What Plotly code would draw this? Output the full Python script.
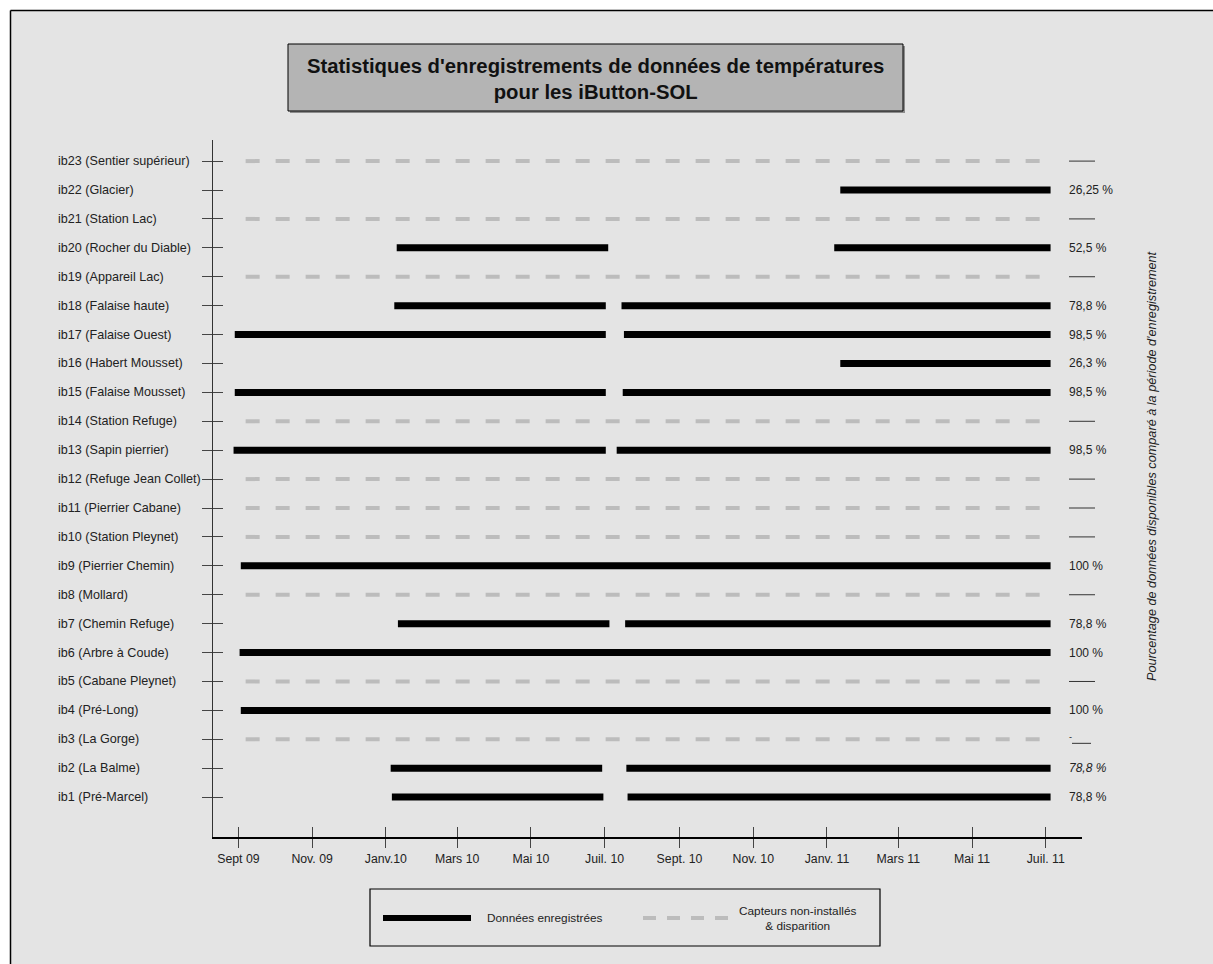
import plotly.graph_objects as go

# capteurs, du bas (ib1) vers le haut (ib23)
capteurs = ["ib1 (Pré-Marcel)", "ib2 (La Balme)", "ib3 (La Gorge)", "ib4 (Pré-Long)",
            "ib5 (Cabane Pleynet)", "ib6 (Arbre à Coude)", "ib7 (Chemin Refuge)", "ib8 (Mollard)",
            "ib9 (Pierrier Chemin)", "ib10 (Station Pleynet)", "ib11 (Pierrier Cabane)",
            "ib12 (Refuge Jean Collet)", "ib13 (Sapin pierrier)", "ib14 (Station Refuge)",
            "ib15 (Falaise Mousset)", "ib16 (Habert Mousset)", "ib17 (Falaise Ouest)",
            "ib18 (Falaise haute)", "ib19 (Appareil Lac)", "ib20 (Rocher du Diable)",
            "ib21 (Station Lac)", "ib22 (Glacier)", "ib23 (Sentier supérieur)"]
pourcentages = ["78,8 %", "78,8 %", "", "100 %", "", "100 %", "78,8 %", "", "100 %", "", "", "",
                "98,5 %", "", "98,5 %", "26,3 %", "98,5 %", "78,8 %", "", "52,5 %", "", "26,25 %", ""]

# périodes d'enregistrement (numéro du capteur, début, fin)
seg_capteur = [1, 1, 2, 2, 4, 6, 7, 7, 9, 13, 13, 15, 15, 16, 17, 17, 18, 18, 20, 20, 22]
seg_debut = ["2010-01-06", "2010-07-20", "2010-01-05", "2010-07-19", "2009-09-03", "2009-09-02",
             "2010-01-11", "2010-07-18", "2009-09-03", "2009-08-28", "2010-07-11", "2009-08-29",
             "2010-07-16", "2011-01-12", "2009-08-29", "2010-07-17", "2010-01-08", "2010-07-15",
             "2010-01-10", "2011-01-07", "2011-01-12"]
seg_fin = ["2010-06-30", "2011-07-05", "2010-06-29", "2011-07-05", "2011-07-05", "2011-07-05",
           "2010-07-05", "2011-07-05", "2011-07-05", "2010-07-02", "2011-07-05", "2010-07-02",
           "2011-07-05", "2011-07-05", "2010-07-02", "2011-07-05", "2010-07-02", "2011-07-05",
           "2010-07-04", "2011-07-05", "2011-07-05"]

# capteurs non installés / disparus
absents = [3, 5, 8, 10, 11, 12, 14, 19, 21, 23]
absent_debut = "2009-09-07"
absent_fin = "2011-06-28"

mois_vals = ["2009-09-01", "2009-11-01", "2010-01-01", "2010-03-01", "2010-05-01", "2010-07-01",
             "2010-09-01", "2010-11-01", "2011-01-01", "2011-03-01", "2011-05-01", "2011-07-01"]
mois_txt = ["Sept 09", "Nov. 09", "Janv.10", "Mars 10", "Mai 10", "Juil. 10",
            "Sept. 10", "Nov. 10", "Janv. 11", "Mars 11", "Mai 11", "Juil. 11"]

W, H = 1213, 964
L, R, T, B = 213, 1082, 140, 837
police = "Liberation Sans"
fond = "#e4e4e4"


def px(x):
    return (x - L) / (R - L)


def py(y):
    return (B - y) / (B - T)


xs, ys = [], []
for c, d, f in zip(seg_capteur, seg_debut, seg_fin):
    xs += [d, f, None]
    ys += [c, c, None]

xa, ya = [], []
for c in absents:
    xa += [absent_debut, absent_fin, None]
    ya += [c, c, None]

fig = go.Figure()
fig.add_trace(go.Scatter(x=xa, y=ya, mode="lines", hoverinfo="skip", showlegend=False,
                         line=dict(color="#bcbcbc", width=4, dash="14px,16px")))
fig.add_trace(go.Scatter(x=xs, y=ys, mode="lines", hoverinfo="skip", showlegend=False,
                         line=dict(color="black", width=7)))
fig.add_trace(go.Scatter(x=[], y=[], xaxis="x2", yaxis="y2", showlegend=False))

shapes = []
annots = []

# marge blanche et cadre (haut et gauche)
shapes.append(dict(type="rect", xref="paper", yref="paper", layer="below",
                   x0=px(0), x1=px(W), y0=py(10), y1=py(0), fillcolor="white", line=dict(width=0)))
shapes.append(dict(type="rect", xref="paper", yref="paper", layer="below",
                   x0=px(0), x1=px(10), y0=py(H), y1=py(0), fillcolor="white", line=dict(width=0)))
shapes.append(dict(type="line", xref="paper", yref="paper", x0=px(10.5), x1=px(W),
                   y0=py(10.5), y1=py(10.5), line=dict(color="black", width=1.5)))
shapes.append(dict(type="line", xref="paper", yref="paper", x0=px(10.5), x1=px(10.5),
                   y0=py(10.5), y1=py(H), line=dict(color="black", width=1.5)))

# boîte du titre
shapes.append(dict(type="rect", xref="paper", yref="paper", x0=px(290), x1=px(905),
                   y0=py(113), y1=py(46), fillcolor="#8c8c8c", line=dict(width=0)))
shapes.append(dict(type="rect", xref="paper", yref="paper", x0=px(288), x1=px(903),
                   y0=py(111), y1=py(44), fillcolor="#b4b4b4", line=dict(color="black", width=1)))
annots.append(dict(xref="paper", yref="paper", x=px(595), y=py(79), showarrow=False, yanchor="middle",
                   text="<b>Statistiques d'enregistrements de données de températures<br>pour les iButton-SOL</b>",
                   font=dict(family=police, size=20.3, color="#111"), align="center"))

# noms des capteurs et pourcentages
for i, nom in enumerate(capteurs):
    annots.append(dict(xref="paper", yref="y", x=px(56), y=i + 1, xanchor="left", yanchor="middle",
                       showarrow=False, text=nom, font=dict(family=police, size=12.6, color="#222")))
    if pourcentages[i]:
        txt = pourcentages[i]
        if i == 1:
            txt = "<i>" + txt + "</i>"
        annots.append(dict(xref="paper", yref="y", x=px(1067), y=i + 1, xanchor="left", yanchor="middle",
                           showarrow=False, text=txt, font=dict(family=police, size=12, color="#222")))
    elif i == 2:
        annots.append(dict(xref="paper", yref="y", x=px(1067), y=i + 1.08, xanchor="left", yanchor="middle",
                           showarrow=False, text="-", font=dict(family=police, size=9, color="#222")))
        shapes.append(dict(type="line", xref="paper", yref="y", x0=px(1072), x1=px(1091),
                           y0=i + 0.86, y1=i + 0.86, line=dict(color="#333", width=1)))
    else:
        shapes.append(dict(type="line", xref="paper", yref="y", x0=px(1069), x1=px(1095),
                           y0=i + 1, y1=i + 1, line=dict(color="#333", width=1)))

annots.append(dict(xref="paper", yref="paper", x=px(1152), y=py(466), showarrow=False, textangle=-90,
                   xanchor="center", yanchor="middle",
                   text="<i>Pourcentage de données disponibles comparé à la période d'enregistrement</i>",
                   font=dict(family=police, size=12.7, color="#222")))

# légende
shapes.append(dict(type="rect", xref="paper", yref="paper", x0=px(370), x1=px(880),
                   y0=py(946), y1=py(889), fillcolor=fond, line=dict(color="black", width=1.2)))
shapes.append(dict(type="line", xref="paper", yref="paper", x0=px(383), x1=px(471),
                   y0=py(918), y1=py(918), line=dict(color="black", width=6)))
shapes.append(dict(type="line", xref="paper", yref="paper", x0=px(643), x1=px(728),
                   y0=py(918), y1=py(918), line=dict(color="#bcbcbc", width=4, dash="13px,11px")))
annots.append(dict(xref="paper", yref="paper", x=px(485), y=py(918), xanchor="left", yanchor="middle",
                   showarrow=False, text="Données enregistrées",
                   font=dict(family=police, size=11.8, color="#222")))
annots.append(dict(xref="paper", yref="paper", x=px(797), y=py(918), xanchor="center", yanchor="middle",
                   showarrow=False, align="center", text="Capteurs non-installés<br>& disparition",
                   font=dict(family=police, size=11.8, color="#222")))

plage_x = ["2009-08-11", "2011-07-31"]
plage_y = [-0.38, 23.73]

fig.update_layout(
    width=W, height=H, autosize=False,
    margin=dict(l=L, r=W - R, t=T, b=H - B, pad=0),
    paper_bgcolor=fond, plot_bgcolor="rgba(0,0,0,0)",
    showlegend=False,
    shapes=shapes, annotations=annots,
    xaxis=dict(type="date", range=plage_x, tickvals=mois_vals, ticktext=mois_txt,
               ticks="outside", ticklen=9, tickcolor="#444", tickwidth=1,
               showline=True, linecolor="black", linewidth=1.5, showgrid=False, zeroline=False,
               tickfont=dict(family=police, size=12.3, color="#222")),
    xaxis2=dict(type="date", range=plage_x, tickvals=mois_vals, overlaying="x",
                ticks="inside", ticklen=10, tickcolor="#444", tickwidth=1,
                showticklabels=False, showline=False, showgrid=False, zeroline=False),
    yaxis=dict(range=plage_y, tickvals=list(range(1, 24)), showticklabels=False,
               ticks="outside", ticklen=10, tickcolor="#444", tickwidth=1,
               showline=True, linecolor="#333", linewidth=1, showgrid=False, zeroline=False),
    yaxis2=dict(range=plage_y, tickvals=list(range(1, 24)), overlaying="y",
                ticks="inside", ticklen=10, tickcolor="#444", tickwidth=1,
                showticklabels=False, showline=False, showgrid=False, zeroline=False),
)

fig.write_html("out.html", config={"displayModeBar": False},
               post_script="document.body.style.margin='0';document.body.style.overflow='hidden';")
